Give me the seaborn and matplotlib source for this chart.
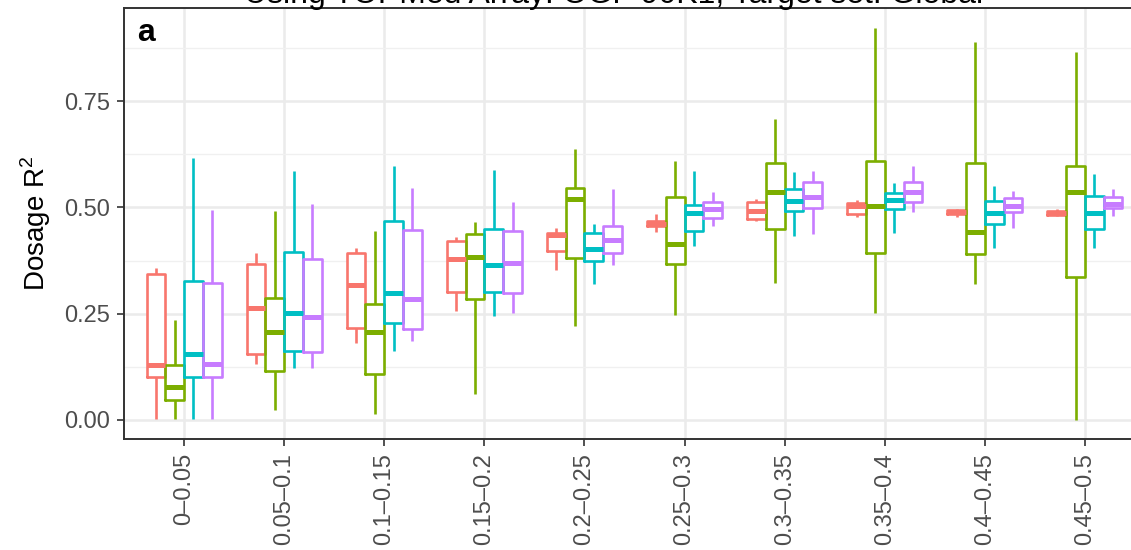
import numpy as np
import pandas as pd
import matplotlib
matplotlib.use("Agg")
import matplotlib.pyplot as plt
import seaborn as sns

# ---------------- data (five-number summaries) ----------------
categories = ["0–0.05", "0.05–0.1", "0.1–0.15", "0.15–0.2", "0.2–0.25",
              "0.25–0.3", "0.3–0.35", "0.35–0.4", "0.4–0.45", "0.45–0.5"]
groups = ["Group 1", "Group 2", "Group 3", "Group 4"]
colors = ["#F8766D", "#7CAE00", "#00BFC4", "#C77CFF"]

# (min, q1, median, q3, max)
red_stats = [
    (0.002, 0.102, 0.129, 0.343, 0.357),
    (0.131, 0.154, 0.263, 0.366, 0.393),
    (0.180, 0.216, 0.317, 0.392, 0.404),
    (0.256, 0.302, 0.378, 0.422, 0.431),
    (0.353, 0.398, 0.435, 0.439, 0.451),
    (0.443, 0.456, 0.462, 0.469, 0.484),
    (0.468, 0.473, 0.492, 0.513, 0.519),
    (0.478, 0.484, 0.502, 0.511, 0.517),
    (0.478, 0.484, 0.489, 0.493, 0.495),
    (0.479, 0.483, 0.487, 0.491, 0.495),
]
green_stats = [
    (0.002, 0.047, 0.077, 0.129, 0.235),
    (0.024, 0.115, 0.208, 0.288, 0.491),
    (0.013, 0.107, 0.208, 0.272, 0.445),
    (0.060, 0.285, 0.384, 0.437, 0.466),
    (0.222, 0.382, 0.519, 0.545, 0.636),
    (0.247, 0.367, 0.414, 0.524, 0.609),
    (0.323, 0.449, 0.537, 0.604, 0.708),
    (0.252, 0.392, 0.504, 0.609, 0.922),
    (0.319, 0.390, 0.443, 0.605, 0.888),
    (0.000, 0.337, 0.537, 0.598, 0.866),
]
cyan_stats = [
    (0.002, 0.102, 0.154, 0.327, 0.615),
    (0.123, 0.162, 0.251, 0.396, 0.585),
    (0.162, 0.229, 0.299, 0.468, 0.597),
    (0.245, 0.302, 0.365, 0.448, 0.588),
    (0.319, 0.375, 0.401, 0.439, 0.462),
    (0.410, 0.444, 0.487, 0.506, 0.585),
    (0.433, 0.492, 0.516, 0.543, 0.582),
    (0.440, 0.496, 0.517, 0.534, 0.557),
    (0.404, 0.460, 0.486, 0.516, 0.550),
    (0.404, 0.448, 0.486, 0.527, 0.578),
]
purple_stats = [
    (0.002, 0.102, 0.131, 0.321, 0.494),
    (0.123, 0.161, 0.243, 0.379, 0.509),
    (0.186, 0.213, 0.285, 0.447, 0.545),
    (0.251, 0.298, 0.368, 0.445, 0.512),
    (0.365, 0.393, 0.423, 0.456, 0.542),
    (0.456, 0.474, 0.495, 0.512, 0.535),
    (0.437, 0.499, 0.525, 0.559, 0.585),
    (0.490, 0.512, 0.535, 0.559, 0.597),
    (0.451, 0.488, 0.503, 0.523, 0.539),
    (0.480, 0.498, 0.507, 0.525, 0.542),
]
y_ticks = [0.00, 0.25, 0.50, 0.75]
y_tick_labels = ["0.00", "0.25", "0.50", "0.75"]

title_text = "Using TOPMed Array: OGF 90K1, Target set: Global"
panel_tag = "a"

# ---------------- long table ----------------
rows = []
for g, stats in zip(groups, [red_stats, green_stats, cyan_stats, purple_stats]):
    for cat, five in zip(categories, stats):
        for v in five:
            rows.append({"bin": cat, "group": g, "r2": v})
df = pd.DataFrame(rows)

# ---------------- style ----------------
sns.set_theme(style="white")
plt.rcParams["font.family"] = ["Liberation Sans", "DejaVu Sans"]
plt.rcParams["mathtext.fontset"] = "custom"
plt.rcParams["mathtext.rm"] = "Liberation Sans"

W, H = 1131, 550
fig = plt.figure(figsize=(W / 100, H / 100), dpi=100)
ax = fig.add_axes([124 / W, 1 - 439 / H, (1145 - 124) / W, (439 - 8) / H])

common = dict(data=df, x="bin", y="r2", hue="group", order=categories,
              hue_order=groups, width=0.75, gap=0, whis=(0, 100),
              showcaps=False, legend=False, ax=ax)

# white box fill underneath
sns.boxplot(palette=["#FFFFFF"] * 4, fill=True, linecolor="#FFFFFF",
            linewidth=0, **common)
# coloured outlines on top
sns.boxplot(palette=colors, fill=False, linewidth=1.9,
            medianprops={"linewidth": 3.6}, **common)

ax.set_xlim(-0.6, 9.6)
ax.set_ylim(-0.0447, 0.9687)

ax.set_axisbelow(True)
ax.set_yticks(y_ticks)
ax.set_yticklabels(y_tick_labels)
ax.set_yticks([0.125, 0.375, 0.625, 0.875], minor=True)
ax.grid(True, which="major", axis="both", color="#EBEBEB", linewidth=1.8)
ax.grid(True, which="minor", axis="y", color="#F0F0F0", linewidth=1.0)

ax.tick_params(axis="both", which="major", length=5, width=1.2,
               color="#333333", labelsize=17, labelcolor="#4D4D4D", pad=5,
               left=True, bottom=True)
ax.tick_params(axis="y", which="minor", length=0)
plt.setp(ax.get_xticklabels(), rotation=90, ha="center", va="top")

for s in ax.spines.values():
    s.set_color("#333333")
    s.set_linewidth(1.4)

ax.set_xlabel("")
ax.set_ylabel(r"Dosage R$^\mathregular{2}$", fontsize=20, color="black", va="center")
ax.yaxis.set_label_coords(-0.086, 0.5)

fig.text(983 / W, 1 - 3 / H, title_text, ha="right", va="baseline",
         fontsize=23, color="black")
fig.text(137 / W, 1 - 41 / H, panel_tag, ha="left", va="baseline",
         fontsize=23, fontweight="bold", color="black")

fig.savefig("out.png", dpi=100)
